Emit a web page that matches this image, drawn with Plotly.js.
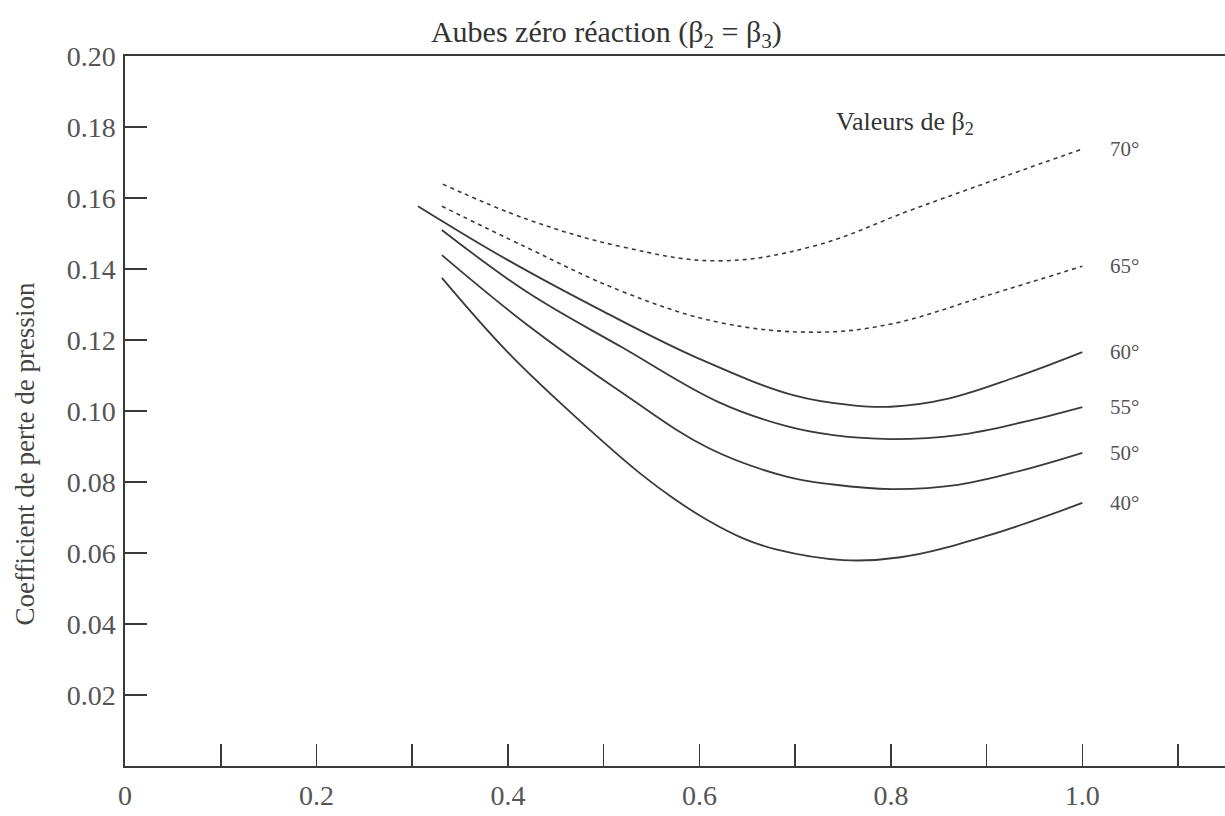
<!DOCTYPE html>
<html>
<head>
<meta charset="utf-8">
<script src="https://cdn.plot.ly/plotly-3.0.1.min.js"></script>
<style>html,body{margin:0;padding:0;background:#fff;}#chart{width:1225px;height:816px;}</style>
</head>
<body>
<div id="chart"></div>
<script>
// Values
const x70 = [0.332, 0.42, 0.52, 0.62, 0.72, 0.82, 0.92, 1.0];
const y70 = [0.1639, 0.1540, 0.1462, 0.1423, 0.1465, 0.1565, 0.1662, 0.1738];

const x65 = [0.331, 0.42, 0.52, 0.62, 0.72, 0.80, 0.90, 1.0];
const y65 = [0.1577, 0.1460, 0.1336, 0.1250, 0.1222, 0.1245, 0.1325, 0.1408];

const x60 = [0.306, 0.40, 0.50, 0.60, 0.70, 0.76, 0.80, 0.86, 0.93, 1.0];
const y60 = [0.1577, 0.1425, 0.1280, 0.1147, 0.1043, 0.1016, 0.1012, 0.1035, 0.1095, 0.1166];

const x55 = [0.331, 0.42, 0.52, 0.62, 0.69, 0.74, 0.80, 0.87, 0.94, 1.0];
const y55 = [0.1510, 0.1335, 0.1178, 0.1025, 0.0958, 0.0932, 0.0921, 0.0932, 0.0970, 0.1011];

const x50 = [0.331, 0.42, 0.52, 0.61, 0.69, 0.74, 0.80, 0.87, 0.94, 1.0];
const y50 = [0.1439, 0.1243, 0.1050, 0.0895, 0.0816, 0.0793, 0.0780, 0.0792, 0.0835, 0.0882];

const x40 = [0.331, 0.40, 0.47, 0.54, 0.575, 0.61, 0.645, 0.68, 0.75, 0.81, 0.90, 1.0];
const y40 = [0.1375, 0.1165, 0.0985, 0.0820, 0.0750, 0.0690, 0.0642, 0.0610, 0.0580, 0.0588, 0.0648, 0.0741];

const curveLabels = ["70°", "65°", "60°", "55°", "50°", "40°"];
const xTickVals = [0, 0.2, 0.4, 0.6, 0.8, 1.0];
const xTickText = ["0", "0.2", "0.4", "0.6", "0.8", "1.0"];
const yTickVals = [0.02, 0.04, 0.06, 0.08, 0.10, 0.12, 0.14, 0.16, 0.18, 0.20];
const yTickText = ["0.02", "0.04", "0.06", "0.08", "0.10", "0.12", "0.14", "0.16", "0.18", "0.20"];

const serif = "Liberation Serif, Times New Roman, serif";
const ink = "#3a3a3a";
const textCol = "#555";

const series = [
  {x: x70, y: y70, dash: "4px,4px"},
  {x: x65, y: y65, dash: "4px,4px"},
  {x: x60, y: y60, dash: "solid"},
  {x: x55, y: y55, dash: "solid"},
  {x: x50, y: y50, dash: "solid"},
  {x: x40, y: y40, dash: "solid"}
];

const traces = series.map((s, i) => ({
  type: "scatter", mode: "lines", x: s.x, y: s.y,
  line: {color: ink, width: s.dash === "solid" ? 1.8 : 1.6, dash: s.dash, shape: "spline", smoothing: 1.1},
  hoverinfo: "skip", showlegend: false, name: curveLabels[i]
}));

const annotations = series.map((s, i) => ({
  x: s.x[s.x.length - 1], y: s.y[s.y.length - 1], xref: "x", yref: "y",
  text: curveLabels[i], showarrow: false, xanchor: "left", yanchor: "middle",
  xshift: 26, font: {family: serif, size: 21, color: textCol}
}));

annotations.push({
  x: 0.815, y: 0.1811, xref: "x", yref: "y", text: "Valeurs de β<sub>2</sub>",
  showarrow: false, xanchor: "center", yanchor: "middle",
  font: {family: serif, size: 26, color: "#333"}
});

annotations.push({
  x: -0.091, y: 0.44, xref: "paper", yref: "paper", text: "Coefficient de perte de pression",
  textangle: -90, showarrow: false, xanchor: "center", yanchor: "middle",
  font: {family: serif, size: 27, color: "#444"}
});

const layout = {
  width: 1225, height: 816,
  margin: {l: 125, r: 0, t: 56, b: 50},
  paper_bgcolor: "#fff", plot_bgcolor: "#fff",
  title: {text: "Aubes zéro réaction (β<sub>2</sub> = β<sub>3</sub>)", x: 0.495, xanchor: "center", y: 0.962, yanchor: "middle",
          font: {family: serif, size: 30, color: "#333"}},
  xaxis: {
    range: [0, 1.149], showgrid: false, zeroline: false,
    showline: true, linecolor: ink, linewidth: 1.6, mirror: true,
    tickmode: "array", tickvals: xTickVals, ticktext: xTickText,
    ticks: "inside", ticklen: 22, tickwidth: 1.6, tickcolor: ink,
    minor: {ticks: "inside", tick0: 0, dtick: 0.1, ticklen: 22, tickwidth: 1.6, tickcolor: ink, showgrid: false},
    ticklabelstandoff: 4,
    tickfont: {family: serif, size: 28, color: textCol}
  },
  yaxis: {
    range: [0, 0.2], showgrid: false, zeroline: false,
    showline: true, linecolor: ink, linewidth: 1.6, mirror: true,
    tickmode: "array", tickvals: yTickVals, ticktext: yTickText,
    ticks: "inside", ticklen: 22, tickwidth: 1.6, tickcolor: ink,
    ticklabelstandoff: 2,
    tickfont: {family: serif, size: 28, color: textCol}
  },
  annotations: annotations
};

Plotly.newPlot("chart", traces, layout, {displayModeBar: false, staticPlot: true});
</script>
</body>
</html>
